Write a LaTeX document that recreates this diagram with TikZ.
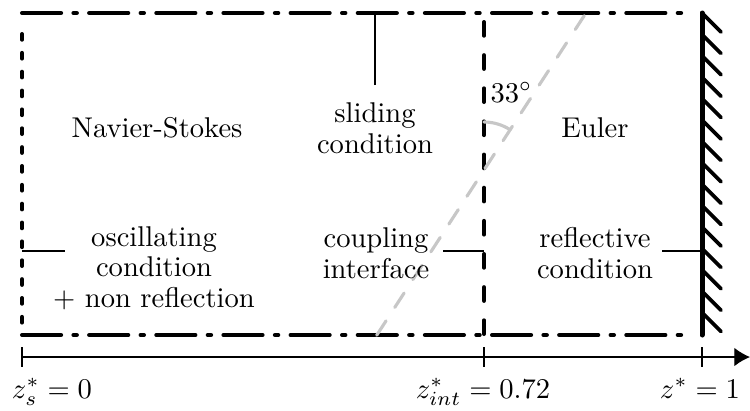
\documentclass[tikz,border=0pt]{standalone}
\usetikzlibrary{arrows.meta}

\begin{document}
\begin{tikzpicture}[x=0.35pt, y=0.35pt,
    bound/.style={line width=1.4pt, line cap=round},
    dashdot/.style={bound, dash pattern=on 13.7pt off 4.3pt on 1.2pt off 4.3pt},
    dotline/.style={bound, dash pattern=on 2pt off 4.6pt},
    iface/.style={bound, dash pattern=on 4.8pt off 6.8pt},
    beam/.style={line width=1.1pt, line cap=round, black!22},
    pointer/.style={line width=0.4pt},
    label/.style={align=center, font=\linespread{0.88}\selectfont, inner sep=0pt}]
    \useasboundingbox (-22,-75) rectangle (728,335);

    % domain boundaries
    \coordinate (bl) at (0,0);
    \coordinate (tl) at (0,322);
    \coordinate (br) at (680,0);
    \coordinate (tr) at (680,322);
    \draw[dashdot] (tl) -- (669,322);
    \draw[dashdot] (bl) -- (669,0);
    \draw[dotline] (0,301) -- (bl);
    \draw[iface] (462,313) -- (462,0);

    % reflective wall
    \draw[line width=1.75pt, line cap=round] (br) -- (tr);
    \foreach \i in {0,...,14}
        \draw[line width=1.3pt, line cap=round] (680,322-21.4*\i) -- ++(19,-19);

    % inclined beam and its angle
    \coordinate (cross) at (462,165);
    \draw[beam, dash pattern=on 6pt off 5.6pt] ([shift={(237:197)}]cross) -- ([shift={(57:184)}]cross);
    \draw[beam] ([shift={(90:48)}]cross) arc[start angle=90, end angle=57, radius=16.8pt];
    \node[anchor=base west, inner sep=0pt] (angle) at (468,233) {$33^\circ$};

    % regions
    \node[anchor=base] (ns) at (135,198) {Navier-Stokes};
    \node[anchor=base] (euler) at (573,198) {Euler};

    % conditions (base = last line)
    \node[label, anchor=base] (sliding) at (353,182) {sliding\\condition};
    \draw[pointer] (353,250) -- (353,322);
    \node[label, anchor=base] (oscill) at (132,28) {oscillating\\condition\\+ non reflection};
    \draw[pointer] (0,84) -- (43,84);
    \node[label, anchor=base] (coupling) at (354,57) {coupling\\interface};
    \draw[pointer] (421,84) -- (462,84);
    \node[label, anchor=base] (reflect) at (573,57) {reflective\\condition};
    \draw[pointer] (640,84) -- (680,84);

    % axis
    \draw[line width=0.45pt, -{Latex[length=5.5pt, width=6.5pt]}] (0,-22) -- (728,-22);
    \foreach \x in {0,462,680}
        \draw[line width=0.45pt] (\x,-12) -- (\x,-32);
    \node[anchor=base] (zs) at (30,-63) {$z_s^*=0$};
    \node[anchor=base] (zint) at (461,-63) {$z_{int}^*=0.72$};
    \node[anchor=base] (zone) at (678,-63) {$z^*=1$};
\end{tikzpicture}
\end{document}
